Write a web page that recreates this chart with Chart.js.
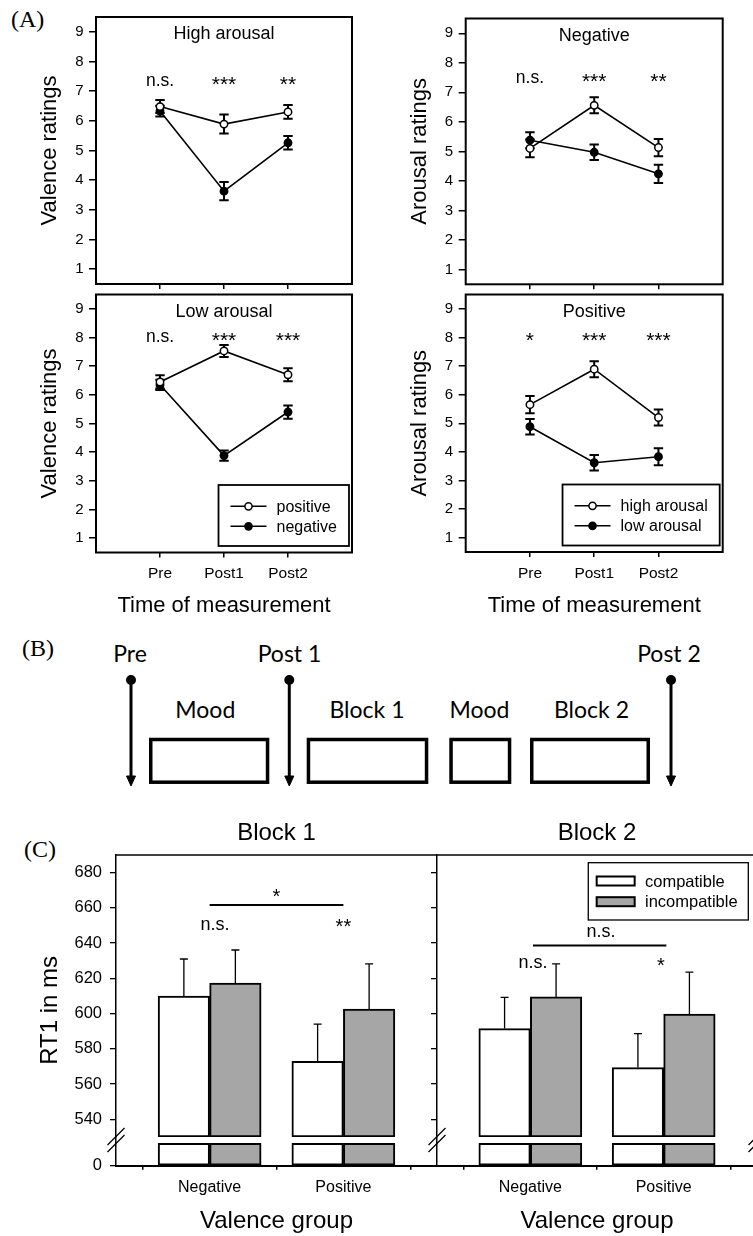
<!DOCTYPE html>
<html><head><meta charset="utf-8">
<script src="https://cdn.jsdelivr.net/npm/chart.js@4.4.1/dist/chart.umd.min.js"></script>
<style>
html,body{margin:0;padding:0;background:#fff;}
body{width:753px;height:1236px;position:relative;overflow:hidden;}
canvas{position:absolute;}
svg{position:absolute;left:0;top:0;}
</style></head><body>
<svg width="753" height="1236">
  <g font-family="Liberation Serif, Times New Roman, serif" font-size="24" fill="#000">
    <text x="11" y="27">(A)</text>
    <text x="22" y="656">(B)</text>
    <text x="24" y="857">(C)</text>
  </g>
  <g font-family="Lato, sans-serif" font-size="23" fill="#000" text-anchor="middle">
    <text x="130" y="662">Pre</text>
    <text x="289.5" y="662">Post 1</text>
    <text x="669" y="662">Post 2</text>
    <text x="205.3" y="718">Mood</text>
    <text x="367" y="718">Block 1</text>
    <text x="479.5" y="718">Mood</text>
    <text x="591.5" y="718">Block 2</text>
  </g>
  <g stroke="#000" stroke-width="3" fill="#000">
    <line x1="131" y1="680" x2="131" y2="778"/><circle cx="131" cy="680" r="3.5"/><polygon points="126.5,776 135.5,776 131,786" stroke-width="1"/>
    <line x1="289.3" y1="680" x2="289.3" y2="778"/><circle cx="289.3" cy="680" r="3.5"/><polygon points="284.8,776 293.8,776 289.3,786" stroke-width="1"/>
    <line x1="671" y1="680" x2="671" y2="778"/><circle cx="671" cy="680" r="3.5"/><polygon points="666.5,776 675.5,776 671,786" stroke-width="1"/>
  </g>
  <g stroke="#000" stroke-width="3.5" fill="none">
    <rect x="150.75" y="739.5" width="116.8" height="42.7"/>
    <rect x="308.45" y="739.5" width="118.1" height="42.7"/>
    <rect x="451.05" y="739.5" width="58.5" height="42.7"/>
    <rect x="531.75" y="739.5" width="116.5" height="42.7"/>
  </g>
</svg>
<canvas id="tl" width="370" height="300" style="left:0;top:0"></canvas>
<canvas id="tr" width="383" height="300" style="left:370px;top:0"></canvas>
<canvas id="bl" width="370" height="340" style="left:0;top:280px"></canvas>
<canvas id="br" width="383" height="340" style="left:370px;top:280px"></canvas>
<canvas id="c1" width="437" height="436" style="left:0;top:800px"></canvas>
<canvas id="c2" width="340" height="436" style="left:425px;top:800px"></canvas>
<script>
// ---------- data ----------
const timeLabels = ['Pre', 'Post1', 'Post2'];
const ratingTicks = [1, 2, 3, 4, 5, 6, 7, 8, 9];

// (A) valence ratings, high arousal
const haPositive = [6.48, 5.89, 6.30];
const haPositiveErr = [0.22, 0.32, 0.23];
const haNegative = [6.33, 3.63, 5.26];
const haNegativeErr = [0.18, 0.31, 0.23];
const haSig = ['n.s.', '***', '**'];
// (A) valence ratings, low arousal
const laPositive = [6.45, 7.53, 6.70];
const laPositiveErr = [0.23, 0.21, 0.23];
const laNegative = [6.35, 3.88, 5.40];
const laNegativeErr = [0.18, 0.18, 0.23];
const laSig = ['n.s.', '***', '***'];
// (A) arousal ratings, negative
const negHigh = [5.10, 6.56, 5.13];
const negHighErr = [0.30, 0.27, 0.29];
const negLow = [5.38, 4.97, 4.24];
const negLowErr = [0.27, 0.26, 0.31];
const negSig = ['n.s.', '***', '**'];
// (A) arousal ratings, positive
const posHigh = [5.65, 6.89, 5.20];
const posHighErr = [0.30, 0.28, 0.28];
const posLow = [4.88, 3.62, 3.83];
const posLowErr = [0.27, 0.27, 0.30];
const posSig = ['*', '***', '***'];

// (C) RT1 in ms
const valenceGroups = ['Negative', 'Positive'];
const rtTicks = [540, 560, 580, 600, 620, 640, 660, 680];
const block1Compatible = [610.0, 573.0];
const block1CompatibleErr = [21.0, 21.0];
const block1Incompatible = [617.4, 602.6];
const block1IncompatibleErr = [18.7, 25.6];
const block2Compatible = [591.5, 569.4];
const block2CompatibleErr = [17.7, 19.2];
const block2Incompatible = [609.5, 599.8];
const block2IncompatibleErr = [18.7, 23.7];

// broken axis settings
const RT_MIN = 530, RT_MAX = 690;
const LOWER_MAX = 10, LOWER_STUB = 7.8;

// ---------- setup ----------
const FONT = "'Liberation Sans', Arial, Helvetica, sans-serif";
Chart.defaults.font.family = FONT;
Chart.defaults.color = '#000';
Chart.defaults.animation = false;
Chart.defaults.plugins.legend.display = false;
Chart.defaults.plugins.tooltip.enabled = false;

const toXY = arr => arr.map((v, i) => ({x: i, y: v}));
const decorCfg = {};

function centeredText(ctx, text, x, y) {
  const m = ctx.measureText(text);
  ctx.textAlign = 'center';
  ctx.textBaseline = 'alphabetic';
  ctx.fillText(text, x, y + (m.actualBoundingBoxAscent - m.actualBoundingBoxDescent) / 2);
}
function line(ctx, x1, y1, x2, y2) { ctx.beginPath(); ctx.moveTo(x1, y1); ctx.lineTo(x2, y2); ctx.stroke(); }

const decorPlugin = {
  id: 'decor',
  beforeDatasetsDraw(chart) {
    const c = decorCfg[chart.canvas.id];
    if (!c || !c.errors) return;
    const ctx = chart.ctx;
    ctx.save();
    ctx.strokeStyle = '#000';
    ctx.lineWidth = c.errWidth;
    c.errors.forEach((err, di) => {
      if (!err) return;
      const meta = chart.getDatasetMeta(di);
      const ys = chart.scales[meta.yAxisID];
      const ds = chart.data.datasets[di];
      meta.data.forEach((el, i) => {
        const v = ds.data[i].y, e = err[i], x = el.x;
        const top = ys.getPixelForValue(v + e);
        const bot = c.errUp ? ys.getPixelForValue(v) : ys.getPixelForValue(v - e);
        ctx.beginPath();
        ctx.moveTo(x, top); ctx.lineTo(x, bot);
        ctx.moveTo(x - c.cap, top); ctx.lineTo(x + c.cap, top);
        if (!c.errUp) { ctx.moveTo(x - c.cap, bot); ctx.lineTo(x + c.cap, bot); }
        ctx.stroke();
      });
    });
    ctx.restore();
  },
  afterDraw(chart) {
    const c = decorCfg[chart.canvas.id];
    if (!c) return;
    const ctx = chart.ctx, ca = chart.chartArea;
    const xs = chart.scales.x, ys = chart.scales.y;
    ctx.save();
    ctx.fillStyle = '#000';
    ctx.strokeStyle = '#000';
    if (c.box) {
      ctx.lineWidth = 2;
      ctx.strokeRect(ca.left, ca.top, ca.right - ca.left, ca.bottom - ca.top);
    }
    if (c.topLine) {
      ctx.lineWidth = 1.3;
      line(ctx, ca.left, ca.top, ca.right, ca.top);
    }
    if (c.innerTitle) {
      ctx.font = '18px ' + FONT;
      ctx.textAlign = 'center';
      ctx.textBaseline = 'alphabetic';
      ctx.fillText(c.innerTitle, (ca.left + ca.right) / 2, ca.top + 22);
    }
    if (c.sig) {
      c.sig.forEach(s => {
        ctx.font = (/^\*+$/.test(s.text) ? c.starFont : c.nsFont) + 'px ' + FONT;
        centeredText(ctx, s.text, xs.getPixelForValue(s.x), ys.getPixelForValue(s.y));
      });
    }
    if (c.brackets) {
      ctx.lineWidth = 2;
      c.brackets.forEach(b => {
        const y = ys.getPixelForValue(b.y);
        line(ctx, xs.getPixelForValue(b.x0), y, xs.getPixelForValue(b.x1), y);
      });
    }
    if (c.legendA) {
      const labels = chart.data.datasets.map(d => d.label);
      ctx.font = '16px ' + FONT;
      const tw = Math.max(...labels.map(l => ctx.measureText(l).width));
      const right = ca.right - 3, bottom = ca.bottom - 6.5, h = 61;
      const left = right - (12 + 36 + 10 + tw + 12);
      const top = bottom - h;
      ctx.lineWidth = 1.8;
      ctx.strokeRect(left, top, right - left, h);
      labels.forEach((l, i) => {
        const y = top + 21.3 + i * 20;
        ctx.lineWidth = 1.6;
        line(ctx, left + 12, y, left + 48, y);
        ctx.beginPath();
        ctx.arc(left + 30, y, 3.6, 0, Math.PI * 2);
        ctx.fillStyle = i === 0 ? '#fff' : '#000';
        ctx.fill();
        ctx.lineWidth = 1.5;
        ctx.stroke();
        ctx.fillStyle = '#000';
        ctx.textAlign = 'left';
        ctx.textBaseline = 'middle';
        ctx.fillText(l, left + 58, y + 1);
      });
    }
    if (c.legendC) {
      const items = chart.data.datasets.slice(0, 2);
      ctx.font = '16.5px ' + FONT;
      const tw = Math.max(...items.map(d => ctx.measureText(d.label).width));
      const right = ca.right - 8.7, top = ca.top + 7.7, h = 57.3;
      const left = right - (8.4 + 38 + 10 + tw + 11);
      ctx.lineWidth = 1.3;
      ctx.strokeRect(left, top, right - left, h);
      items.forEach((d, i) => {
        const y = top + 18.3 + i * 20.7;
        ctx.fillStyle = d.backgroundColor;
        ctx.fillRect(left + 8.4, y - 4.5, 38, 9);
        ctx.lineWidth = 2;
        ctx.strokeRect(left + 8.4, y - 4.5, 38, 9);
        ctx.fillStyle = '#000';
        ctx.textAlign = 'left';
        ctx.textBaseline = 'middle';
        ctx.fillText(d.label, left + 56.7, y + 1);
      });
    }
    if (c.breaks) {
      const cy = ys.bottom + 3;
      ctx.lineWidth = 1.3;
      c.breaks.forEach(side => {
        const cx = side === 'left' ? ca.left : ca.right;
        [-3.5, 3.5].forEach(d => line(ctx, cx - 8.5, cy + d + 8.5, cx + 8.5, cy + d - 8.5));
      });
    }
    if (c.yTitle) {
      ctx.font = '24px ' + FONT;
      ctx.translate(c.yTitleX, (ca.top + ca.bottom) / 2);
      ctx.rotate(-Math.PI / 2);
      ctx.textAlign = 'center';
      ctx.textBaseline = 'middle';
      ctx.fillText(c.yTitle, 0, 0);
    }
    ctx.restore();
  }
};

// ---------- (A) line charts ----------
function lineChart(id, cfg) {
  decorCfg[id] = {
    box: true, innerTitle: cfg.title,
    errors: [cfg.openErr, cfg.filledErr], errWidth: 2, cap: 4.7, errUp: false,
    sig: cfg.sig.map((t, i) => ({x: i, y: cfg.sigY, text: t})), nsFont: 17.5, starFont: 21,
    legendA: cfg.legend
  };
  const common = {borderColor: '#000', borderWidth: 1.6, pointRadius: 3.7, pointBorderWidth: 1.5,
    pointBorderColor: '#000', tension: 0, fill: false};
  new Chart(document.getElementById(id), {
    type: 'line',
    data: {datasets: [
      Object.assign({label: cfg.names[0], data: toXY(cfg.open), pointBackgroundColor: '#fff'}, common),
      Object.assign({label: cfg.names[1], data: toXY(cfg.filled), pointBackgroundColor: '#000'}, common)
    ]},
    options: {
      responsive: false,
      layout: {padding: {top: cfg.padTop, right: cfg.padRight, left: 0, bottom: 0}},
      scales: {
        x: {
          type: 'linear', min: -1, max: 3,
          afterBuildTicks: s => { s.ticks = timeLabels.map((_, i) => ({value: i})); },
          afterFit: s => { s.height = cfg.xHeight; },
          grid: {drawOnChartArea: false, color: '#000', lineWidth: 1.5, tickLength: 5},
          border: {display: false},
          ticks: {display: cfg.showX, callback: v => timeLabels[v], font: {size: 15.5}, padding: 7, maxRotation: 0, autoSkip: false},
          title: {display: cfg.showX, text: 'Time of measurement', font: {size: 22}, padding: {top: 0, bottom: 1}}
        },
        y: {
          min: 0.5, max: 9.5,
          afterBuildTicks: s => { s.ticks = ratingTicks.map(v => ({value: v})); },
          afterFit: s => { s.width = cfg.yWidth; },
          grid: {drawOnChartArea: false, color: '#000', lineWidth: 1.5, tickLength: 7},
          border: {display: false},
          ticks: {font: {size: 15}, padding: 5.5},
          title: {display: true, text: cfg.yTitle, font: {size: 22}, padding: {top: 36.5, bottom: 0}}
        }
      }
    },
    plugins: [decorPlugin]
  });
}

lineChart('tl', {title: 'High arousal', yTitle: 'Valence ratings', names: ['positive', 'negative'],
  open: haPositive, openErr: haPositiveErr, filled: haNegative, filledErr: haNegativeErr,
  sig: haSig, sigY: 7.33, legend: false, showX: false,
  padTop: 17, padRight: 18, xHeight: 16, yWidth: 96});
lineChart('tr', {title: 'Negative', yTitle: 'Arousal ratings', names: ['high arousal', 'low arousal'],
  open: negHigh, openErr: negHighErr, filled: negLow, filledErr: negLowErr,
  sig: negSig, sigY: 7.49, legend: false, showX: false,
  padTop: 18.5, padRight: 30.3, xHeight: 15.7, yWidth: 95.7});
lineChart('bl', {title: 'Low arousal', yTitle: 'Valence ratings', names: ['positive', 'negative'],
  open: laPositive, openErr: laPositiveErr, filled: laNegative, filledErr: laNegativeErr,
  sig: laSig, sigY: 8.03, legend: true, showX: true,
  padTop: 5.5, padRight: 18, xHeight: 67.5, yWidth: 96});
lineChart('br', {title: 'Positive', yTitle: 'Arousal ratings', names: ['high arousal', 'low arousal'],
  open: posHigh, openErr: posHighErr, filled: posLow, filledErr: posLowErr,
  sig: posSig, sigY: 8.0, legend: true, showX: true,
  padTop: 5.5, padRight: 30.3, xHeight: 68, yWidth: 95.7});

// ---------- (C) bar charts with broken axis ----------
function barChart(id, cfg) {
  decorCfg[id] = {
    topLine: true, errors: [cfg.compErr, cfg.incompErr], errWidth: 1.3, cap: 4, errUp: true,
    sig: cfg.sig, nsFont: 18, starFont: 20, brackets: cfg.brackets,
    legendC: cfg.legend, breaks: cfg.breaks,
    yTitle: cfg.yTitle, yTitleX: 50
  };
  const bar = {borderColor: '#000', borderWidth: 2, borderSkipped: false, barThickness: 51.5};
  const stub = valenceGroups.map((_, i) => ({x: i, y: LOWER_STUB}));
  const yCommon = {
    type: 'linear', position: 'left', stack: 'rt',
    afterFit: s => { s.width = cfg.yWidth; },
    grid: {drawOnChartArea: false, color: '#000', lineWidth: 1.3, tickLength: 6},
    border: {display: true, color: '#000', width: 1.5},
    ticks: {display: cfg.showY, font: {size: 16.5}, padding: 8}
  };
  new Chart(document.getElementById(id), {
    type: 'bar',
    data: {datasets: [
      Object.assign({label: 'compatible', data: toXY(cfg.comp), yAxisID: 'y', stack: 'c', base: RT_MIN, backgroundColor: '#ffffff'}, bar),
      Object.assign({label: 'incompatible', data: toXY(cfg.incomp), yAxisID: 'y', stack: 'i', base: RT_MIN, backgroundColor: '#a6a6a6'}, bar),
      Object.assign({label: 'compatible', data: stub, yAxisID: 'y0', stack: 'c', backgroundColor: '#ffffff'}, bar),
      Object.assign({label: 'incompatible', data: stub, yAxisID: 'y0', stack: 'i', backgroundColor: '#a6a6a6'}, bar)
    ]},
    options: {
      responsive: false,
      layout: {padding: {top: 0, right: cfg.padRight, left: 0, bottom: 0}},
      plugins: {
        title: {display: true, text: cfg.title, font: {size: 24, weight: 'normal'}, color: '#000',
          padding: {top: 18.6, bottom: 7.6}, fullSize: false}
      },
      scales: {
        x: {
          type: 'linear', min: -0.7, max: 1.7, offset: false,
          afterBuildTicks: s => { s.ticks = valenceGroups.map((_, i) => ({value: i})); },
          afterFit: s => { s.height = 70.3; },
          grid: {drawOnChartArea: false, color: '#000', lineWidth: 1.5, tickLength: 4},
          border: {display: true, color: '#000', width: 2},
          ticks: {callback: v => valenceGroups[v], font: {size: 16}, padding: 8.7, maxRotation: 0, autoSkip: false},
          title: {display: true, text: 'Valence group', font: {size: 24}, padding: {top: 0, bottom: 0.6}}
        },
        y: Object.assign({}, yCommon, {
          min: RT_MIN, max: RT_MAX, stackWeight: 282, weight: 1, stacked: false,
          afterBuildTicks: s => { s.ticks = rtTicks.map(v => ({value: v})); }
        }),
        y0: Object.assign({}, yCommon, {
          min: 0, max: LOWER_MAX, stackWeight: 28.7, weight: 0, stacked: false,
          afterBuildTicks: s => { s.ticks = [{value: 0}]; }
        })
      }
    },
    plugins: [decorPlugin]
  });
}

barChart('c1', {title: 'Block 1', comp: block1Compatible, compErr: block1CompatibleErr,
  incomp: block1Incompatible, incompErr: block1IncompatibleErr,
  sig: [{x: 0.5, y: 668.5, text: '*'}, {x: 0.04, y: 650.5, text: 'n.s.'}, {x: 1.0, y: 651.5, text: '**'}],
  brackets: [{x0: 0, x1: 1, y: 661.7}],
  legend: false, breaks: ['left'], showY: true, yWidth: 116, padRight: 0, yTitle: 'RT1 in ms'});
barChart('c2', {title: 'Block 2', comp: block2Compatible, compErr: block2CompatibleErr,
  incomp: block2Incompatible, incompErr: block2IncompatibleErr,
  sig: [{x: 0.53, y: 646.1, text: 'n.s.'}, {x: 0.02, y: 629, text: 'n.s.'}, {x: 0.98, y: 629.3, text: '*'}],
  brackets: [{x0: 0.02, x1: 1.02, y: 638.7}],
  legend: true, breaks: ['left', 'right'], showY: false, yWidth: 12, padRight: 8, yTitle: null});
</script>
</body></html>
